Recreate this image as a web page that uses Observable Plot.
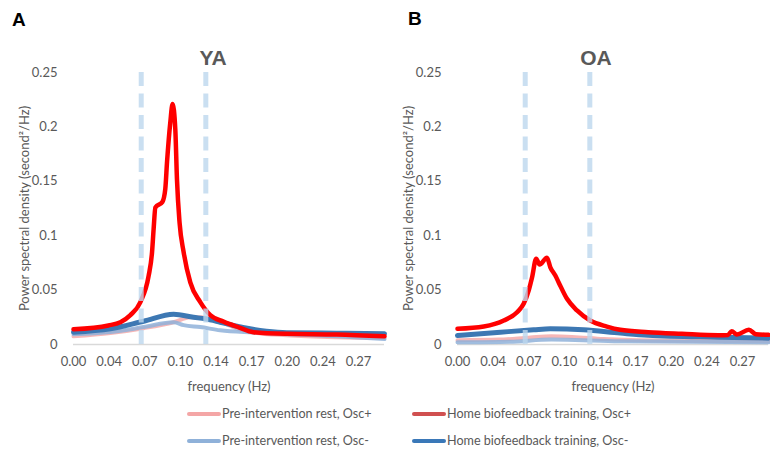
<!DOCTYPE html>
<html>
<head>
<meta charset="utf-8">
<script src="https://cdn.jsdelivr.net/npm/d3@7"></script>
<script src="https://cdn.jsdelivr.net/npm/@observablehq/plot@0.6"></script>
<style>
  html, body { margin: 0; padding: 0; background: #fff; }
  #wrap { position: relative; width: 770px; height: 453px; font-family: Lato, "Open Sans", sans-serif; color: #595959; overflow: hidden; }
  #panels { position: absolute; left: 0; top: 0; display: flex; }
  .letter { position: absolute; font-family: "Liberation Sans", Arial, sans-serif; font-weight: bold; font-size: 19px; color: #000; line-height: 1; }
  .title { position: absolute; font-family: "Liberation Sans", Arial, sans-serif; font-weight: bold; font-size: 21px; color: #595959; line-height: 1; transform: translateX(-50%); }
  .leg { position: absolute; display: flex; align-items: center; font-size: 12.6px; color: #595959; line-height: 1; }
  .sw { width: 34px; height: 4px; border-radius: 2px; margin-right: 1px; }
</style>
</head>
<body>
<div id="wrap">
  <div id="panels"></div>
  <div class="letter" style="left:12px;top:10px">A</div>
  <div class="letter" style="left:408px;top:9px">B</div>
  <div class="title" style="left:213px;top:47px">YA</div>
  <div class="title" style="left:596px;top:47px">OA</div>
  <div id="legend"></div>
</div>
<script>
// ---- tick labels / axis values ----
const xTickLabels = ["0.00","0.04","0.07","0.10","0.14","0.17","0.20","0.24","0.27"];
const xTickStep = 0.0342;          // Hz between labelled categories
const xMax = 0.2985;               // last frequency shown
const yTicks = [0, 0.05, 0.1, 0.15, 0.2, 0.25];
const bandEdges = [0.065, 0.127];  // dashed resonance band (Hz)

const seriesNames = [
  "Pre-intervention rest, Osc+",
  "Pre-intervention rest, Osc-",
  "Home biofeedback training, Osc-",
  "Home biofeedback training, Osc+"
];

// ---- YA panel: [frequency Hz, PSD] ----
const yaPreOscPlus = [[0,0.0075],[0.0354,0.0105],[0.0673,0.015],[0.0961,0.0205],[0.1121,0.025],[0.1217,0.025],[0.1408,0.021],[0.157,0.0147],[0.1724,0.011],[0.2047,0.0085],[0.2526,0.0067],[0.2985,0.006]];
const yaPreOscMinus = [[0,0.0095],[0.0354,0.0115],[0.0673,0.016],[0.0961,0.0205],[0.1057,0.0178],[0.1217,0.016],[0.1408,0.013],[0.1724,0.011],[0.2047,0.0095],[0.2526,0.0075],[0.2985,0.005]];
const yaHomeOscMinus = [[0,0.0113],[0.0354,0.0144],[0.0673,0.0214],[0.0961,0.0278],[0.1152,0.025],[0.1265,0.0236],[0.1408,0.0205],[0.1535,0.0175],[0.1851,0.0122],[0.2047,0.0108],[0.2526,0.0104],[0.2985,0.0098]];
const yaHomeOscPlus = [[0,0.014],[0.0335,0.0175],[0.045,0.0205],[0.0546,0.027],[0.0642,0.039],[0.0721,0.063],[0.0754,0.085],[0.0769,0.106],[0.0786,0.126],[0.0853,0.131],[0.0881,0.143],[0.0898,0.168],[0.0929,0.204],[0.0951,0.221],[0.0977,0.198],[0.0993,0.152],[0.1018,0.112],[0.1057,0.085],[0.1121,0.057],[0.1217,0.039],[0.1313,0.027],[0.144,0.021],[0.158,0.016],[0.1727,0.0113],[0.2047,0.0098],[0.2526,0.0092],[0.2985,0.0075]];

// ---- OA panel ----
const oaPreOscPlus = [[0,0.004],[0.04,0.0045],[0.07,0.0065],[0.09,0.0075],[0.11,0.007],[0.14,0.005],[0.2,0.0035],[0.2985,0.003]];
const oaPreOscMinus = [[0,0.002],[0.05,0.0025],[0.09,0.0045],[0.12,0.004],[0.16,0.003],[0.2985,0.002]];
const oaHomeOscMinus = [[0,0.0083],[0.0412,0.0113],[0.0731,0.0135],[0.0891,0.0144],[0.121,0.0135],[0.1562,0.0105],[0.183,0.0085],[0.2503,0.0067],[0.2985,0.0058]];
const oaHomeOscPlus = [[0,0.0144],[0.0252,0.0165],[0.0444,0.022],[0.0572,0.0297],[0.0635,0.0374],[0.0683,0.0496],[0.0716,0.0619],[0.0755,0.0788],[0.0788,0.0735],[0.0859,0.0797],[0.0891,0.071],[0.0939,0.0634],[0.097,0.0573],[0.1051,0.042],[0.1147,0.0313],[0.1274,0.022],[0.1434,0.0165],[0.1562,0.0135],[0.183,0.0113],[0.2153,0.0098],[0.2503,0.0085],[0.2596,0.0088],[0.2632,0.0122],[0.2682,0.0092],[0.2797,0.0135],[0.2864,0.0095],[0.2985,0.0089]];

// ---- styles ----
const lineColors = ["#f4aaaa", "#8fb1d9", "#3d78b3", "#ff0000"];
const lineWidths = [4, 4, 5, 4.5];
const lineOpacity = [0.85, 0.85, 1, 1];
const legendColors = ["#f4a6a6", "#8fb1d9", "#d05050", "#3a78b8"];

function panel(seriesArrays, width, marginRight) {
  const rows = seriesArrays.flatMap((arr, s) => arr.map(([f, v]) => ({s, f, v})));
  const marks = [Plot.ruleY([0], {stroke: "#d9d9d9", strokeWidth: 1.5})];
  seriesArrays.forEach((arr, s) => {
    marks.push(Plot.line(rows.filter(r => r.s === s), {
      x: "f", y: "v", curve: "monotone-x",
      stroke: lineColors[s], strokeWidth: lineWidths[s], strokeOpacity: lineOpacity[s],
      strokeLinecap: "round", strokeLinejoin: "round"
    }));
  });
  marks.push(Plot.ruleX(bandEdges, {y1: 0, y2: 0.25, stroke: "#bdd7ee", strokeWidth: 5, strokeOpacity: 0.8, strokeDasharray: "14,7.5"}));
  marks.push(Plot.axisX({
    ticks: xTickLabels.map((_, i) => i * xTickStep),
    tickFormat: (d, i) => xTickLabels[i],
    tickSize: 0, tickPadding: 12,
    label: "frequency (Hz)", labelAnchor: "center", labelArrow: "none", labelOffset: 46
  }));
  marks.push(Plot.axisY({
    ticks: yTicks,
    tickFormat: d => d === 0 ? "0" : String(+d.toFixed(2)),
    tickSize: 0, tickPadding: 16,
    label: "Power spectral density (second²/Hz)", labelAnchor: "center", labelArrow: "none", labelOffset: 54
  }));
  return Plot.plot({
    width, height: 400,
    marginLeft: 73, marginRight, marginTop: 72, marginBottom: 56,
    x: {domain: [0, xMax]},
    y: {domain: [0, 0.25]},
    style: {fontFamily: "Lato, 'Open Sans', sans-serif", fontSize: "13px", color: "#595959", background: "transparent", overflow: "visible"},
    marks
  });
}

const panels = document.getElementById("panels");
panels.append(panel([yaPreOscPlus, yaPreOscMinus, yaHomeOscMinus, yaHomeOscPlus], 384, 0));
panels.append(panel([oaPreOscPlus, oaPreOscMinus, oaHomeOscMinus, oaHomeOscPlus], 386, 2));

// ---- legend (two columns, two rows) ----
const legendOrder = [0, 3, 1, 2];
const legendPos = [[187, 408], [412, 408], [187, 435], [412, 435]];
const legend = document.getElementById("legend");
legendOrder.forEach((s, k) => {
  const item = document.createElement("div");
  item.className = "leg";
  item.style.left = legendPos[k][0] + "px";
  item.style.top = legendPos[k][1] + "px";
  const sw = document.createElement("div");
  sw.className = "sw";
  sw.style.background = s === 3 ? legendColors[2] : s === 2 ? legendColors[3] : legendColors[s];
  const t = document.createElement("span");
  t.textContent = seriesNames[s];
  item.append(sw, t);
  legend.append(item);
});
</script>
</body>
</html>
